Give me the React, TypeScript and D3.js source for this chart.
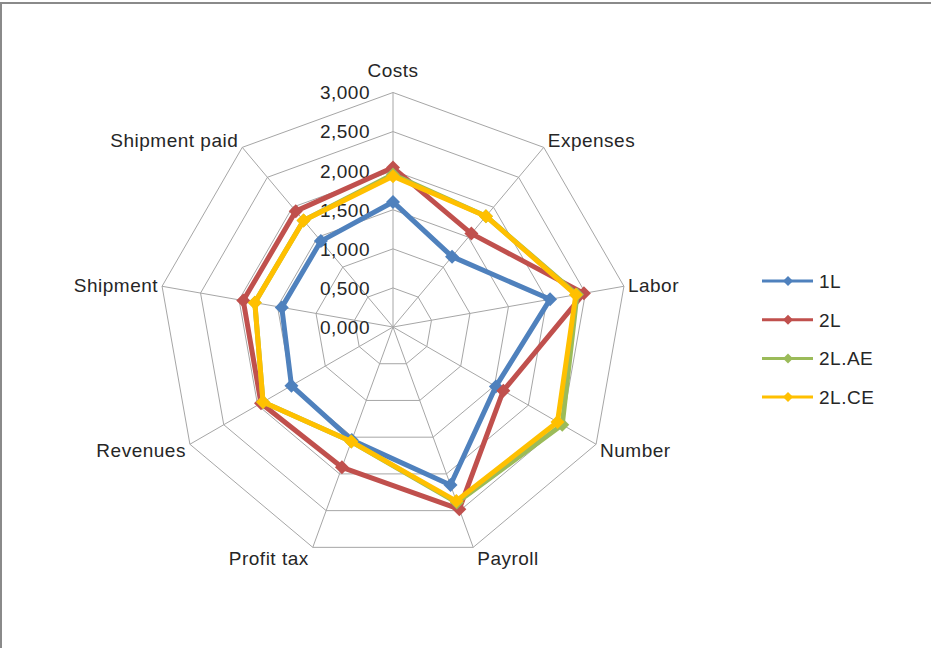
import React from "react";
import * as d3 from "d3";

const categories = ["Costs", "Expenses", "Labor", "Number", "Payroll", "Profit tax", "Revenues", "Shipment", "Shipment paid"];
const tickValues = [0, 500, 1000, 1500, 2000, 2500, 3000];
const tickLabels = ["0,000", "0,500", "1,000", "1,500", "2,000", "2,500", "3,000"];
const seriesNames = ["1L", "2L", "2L.AE", "2L.CE"];
const s1L = [1600, 1175, 2040, 1520, 2150, 1540, 1500, 1445, 1435];
const s2L = [2040, 1560, 2480, 1630, 2480, 1910, 1950, 1945, 1935];
const s2LAE = [1950, 1850, 2390, 2500, 2390, 1560, 1920, 1795, 1780];
const s2LCE = [1930, 1850, 2375, 2430, 2370, 1560, 1920, 1795, 1780];
const seriesColors = ["#4F81BD", "#C0504D", "#9BBB59", "#FFC000"];

const W = 931, H = 648;
const cx = 393, cy = 327, R = 234.5;

export default function App() {
  const series = [s1L, s2L, s2LAE, s2LCE];
  const n = categories.length;
  const r = d3.scaleLinear().domain([0, 3000]).range([0, R]);
  const ang = (i: number) => (i * 2 * Math.PI) / n;
  const pt = (i: number, v: number): [number, number] => [cx + r(v) * Math.sin(ang(i)), cy - r(v) * Math.cos(ang(i))];
  const line = d3.line<[number, number]>().curve(d3.curveLinearClosed);
  const font = "'Liberation Sans', Arial, sans-serif";
  const textColor = "#262626";
  const ls = 0.5;
  const diamond = (x: number, y: number, s: number) => `M${x},${y - s}L${x + s},${y}L${x},${y + s}L${x - s},${y}Z`;

  return (
    <div style={{ position: "fixed", left: 0, top: 0 }}>
      <svg width={W} height={H} style={{ display: "block", background: "#fff" }}>
        <rect x={1} y={3} width={1200} height={1200} fill="none" stroke="#8a8a8a" strokeWidth={2} />
        {/* grid rings */}
        {tickValues.slice(1).map((t) => (
          <path key={t} d={line(categories.map((_, i) => pt(i, t))) || ""} fill="none" stroke="#a6a6a6" strokeWidth={1} />
        ))}
        {/* spokes */}
        {categories.map((_, i) => {
          const [x, y] = pt(i, 3000);
          return <line key={i} x1={cx} y1={cy} x2={x} y2={y} stroke="#a6a6a6" strokeWidth={1} />;
        })}
        {/* tick labels */}
        {tickValues.map((t, k) => (
          <text key={t} x={370} y={cy - r(t)} dy="0.36em" textAnchor="end" fontFamily={font} fontSize={19} letterSpacing={ls} fill={textColor}>
            {tickLabels[k]}
          </text>
        ))}
        {/* category labels */}
        {categories.map((c, i) => {
          const [x, y] = pt(i, 3000);
          const s = Math.sin(ang(i));
          const co = Math.cos(ang(i));
          let anchor = "middle";
          let tx = x, ty = y;
          if (Math.abs(s) < 0.01) { ty = y - 22; }
          else if (s > 0) { anchor = "start"; tx = x + 4; ty = y + (co > 0.5 ? -7 : co > 0 ? -1 : co > -0.6 ? 6 : 11); }
          else { anchor = "end"; tx = x - 4; ty = y + (co > 0.5 ? -7 : co > 0 ? -1 : co > -0.6 ? 6 : 11); }
          return (
            <text key={c} x={tx} y={ty} dy="0.36em" textAnchor={anchor} fontFamily={font} fontSize={19} letterSpacing={ls} fill={textColor}>
              {c}
            </text>
          );
        })}
        {/* series */}
        {series.map((vals, k) => {
          const pts = vals.map((v, i) => pt(i, v));
          return (
            <g key={k}>
              <path d={line(pts) || ""} fill="none" stroke={seriesColors[k]} strokeWidth={5} strokeLinejoin="round" />
              {pts.map(([x, y], i) => (
                <path key={i} d={diamond(x, y, 7)} fill={seriesColors[k]} />
              ))}
            </g>
          );
        })}
        {/* legend */}
        {seriesNames.map((nm, k) => {
          const y = 281 + k * 38.7;
          return (
            <g key={nm}>
              <line x1={762} x2={813} y1={y} y2={y} stroke={seriesColors[k]} strokeWidth={3} />
              <path d={diamond(788, y, 5)} fill={seriesColors[k]} />
              <text x={819} y={y} dy="0.36em" fontFamily={font} fontSize={19} letterSpacing={ls} fill={textColor}>{nm}</text>
            </g>
          );
        })}
      </svg>
    </div>
  );
}
